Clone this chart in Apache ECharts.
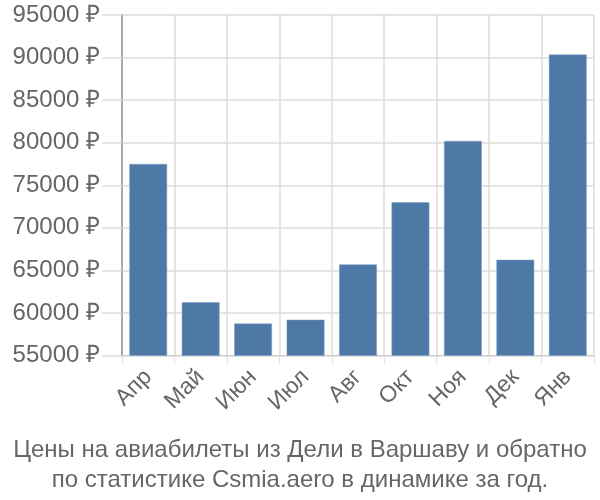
<!DOCTYPE html>
<html><head><meta charset="utf-8">
<script src="https://cdn.jsdelivr.net/npm/echarts@6/dist/echarts.min.js"></script>
<style>html,body{margin:0;padding:0;background:#fff}#c{width:600px;height:500px}</style>
</head><body><div id="c"></div>
<script>
const categories = ['Апр','Май','Июн','Июл','Авг','Окт','Ноя','Дек','Янв'];
const prices = [77500, 61250, 58750, 59200, 65700, 73000, 80200, 66250, 90350];
const titleLines = ['Цены на авиабилеты из Дели в Варшаву и обратно','по статистике Csmia.aero в динамике за год.'];
const yMin = 55000, yMax = 95000, yStep = 5000;

const chart = echarts.init(document.getElementById('c'), null, {renderer:'canvas'});
chart.setOption({
  animation:false,
  title:{
    text: titleLines.join('\n'),
    left:'center', top:430,
    textStyle:{fontFamily:'Liberation Sans', fontSize:24, fontWeight:'normal', color:'#666', lineHeight:30}
  },
  grid:{left:122, top:15, right:6, bottom:144.5, containLabel:false},
  xAxis:{
    type:'category', data:categories,
    axisLine:{show:true, lineStyle:{color:'#ccc', width:1}},
    axisTick:{show:true, length:8, lineStyle:{color:'#ddd'}},
    splitLine:{show:true, lineStyle:{color:'#ddd', width:1.5}},
    axisLabel:{rotate:45, fontFamily:'Liberation Sans', fontSize:23, color:'#666', margin:18}
  },
  yAxis:{
    type:'value', min:yMin, max:yMax, interval:yStep,
    axisLine:{show:true, lineStyle:{color:'#aaa', width:2}},
    axisTick:{show:true, length:20, lineStyle:{color:'#ddd', width:1.5}},
    splitLine:{show:true, lineStyle:{color:'#ddd', width:1.5}},
    axisLabel:{formatter: v => v + ' ₽', fontFamily:'Liberation Sans', fontSize:24, color:'#666', margin:22}
  },
  series:[{
    type:'bar', data:prices, barCategoryGap:'28%',
    itemStyle:{color:'#4e79a7', borderColor:'#7f9fc4', borderWidth:0.5}
  }]
});
</script></body></html>
